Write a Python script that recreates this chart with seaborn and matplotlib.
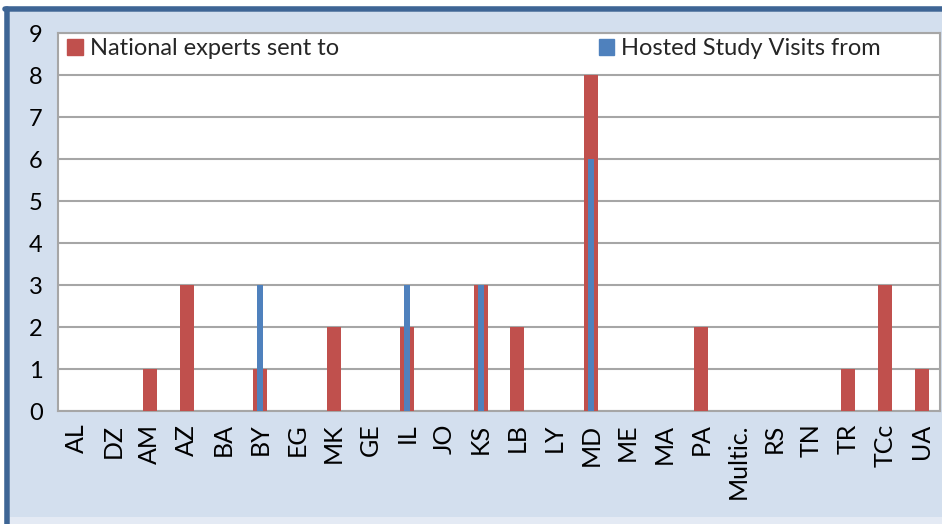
import matplotlib
matplotlib.use("Agg")
import matplotlib.pyplot as plt
import seaborn as sns
from matplotlib.patches import Rectangle, Patch
from matplotlib.lines import Line2D

countries = ["AL", "DZ", "AM", "AZ", "BA", "BY", "EG", "MK", "GE", "IL", "JO",
             "KS", "LB", "LY", "MD", "ME", "MA", "PA", "Multic.", "RS", "TN",
             "TR", "TCc", "UA"]
experts_sent = [0, 0, 1, 3, 0, 1, 0, 2, 0, 2, 0, 3, 2, 0, 8, 0, 0, 2, 0, 0, 0, 1, 3, 1]
visits_hosted = [0, 0, 0, 0, 0, 3, 0, 0, 0, 3, 0, 3, 0, 0, 6, 0, 0, 0, 0, 0, 0, 0, 0, 0]

red = "#C0504D"
blue = "#4F81BD"
grid_gray = "#A6A6A6"

sns.set_style("white")
plt.rcParams["font.family"] = ["Lato", "DejaVu Sans"]

fig = plt.figure(figsize=(9.42, 5.24), dpi=100)
fig.patch.set_facecolor("white")

W, H = 942, 524
# chart frame background and dark border (left + top)
fig.patches.append(Rectangle((10 / W, 0), 1, 1 - 12 / H, transform=fig.transFigure,
                             facecolor="#E4EAF4", edgecolor="none", zorder=-3))
fig.patches.append(Rectangle((10 / W, 7 / H), 1, 1 - 12 / H - 7 / H, transform=fig.transFigure,
                             facecolor="#D3DFEE", edgecolor="none", zorder=-2))
fig.lines.append(Line2D([7 / W, 7 / W], [0, 1 - 9 / H], transform=fig.transFigure,
                        color="#3E6595", linewidth=4, zorder=-1))
fig.lines.append(Line2D([5 / W, 1], [1 - 9 / H, 1 - 9 / H], transform=fig.transFigure,
                        color="#3E6595", linewidth=4, zorder=-1))

ax = fig.add_axes([58 / W, 1 - 411 / H, 882 / W, 378 / H])
ax.set_facecolor("white")

sns.barplot(x=countries, y=experts_sent, color=red, width=0.38, ax=ax,
            saturation=1, linewidth=0, zorder=3)
sns.barplot(x=countries, y=visits_hosted, color=blue, width=0.16, ax=ax,
            saturation=1, linewidth=0, zorder=4)

n = len(countries)
ax.set_xlim(-0.5, n - 0.5)
ax.set_ylim(0, 9)
ax.set_yticks(range(10))
ax.yaxis.grid(True, color=grid_gray, linewidth=1.5, zorder=0)
ax.set_axisbelow(True)

ax.set_xticks(range(n))
ax.set_xticklabels(countries, rotation=90, fontsize=18)
ax.set_xticks([i - 0.5 for i in range(n + 1)], minor=True)
ax.tick_params(axis="x", which="major", length=0, pad=9, colors="black")
ax.tick_params(axis="x", which="minor", length=6, width=1.5, color=grid_gray)
ax.tick_params(axis="y", length=6, width=1.5, color=grid_gray, labelsize=17, pad=5)
for lbl in ax.get_yticklabels():
    lbl.set_color("black")

for s in ax.spines.values():
    s.set_visible(True)
    s.set_color(grid_gray)
    s.set_linewidth(1.5)

handles = [Patch(color=red, label="National experts sent to"),
           Patch(color=blue, label="Hosted Study Visits from")]
ax.legend(handles=handles, loc="upper left", bbox_to_anchor=(-0.004, 1.02), ncol=2,
          frameon=False, fontsize=17, handlelength=0.65, handleheight=0.65,
          handletextpad=0.3, columnspacing=11.0, borderaxespad=0.15)

ax.set_xlabel("")
ax.set_ylabel("")
fig.savefig("out.png", dpi=100, facecolor=fig.get_facecolor())
